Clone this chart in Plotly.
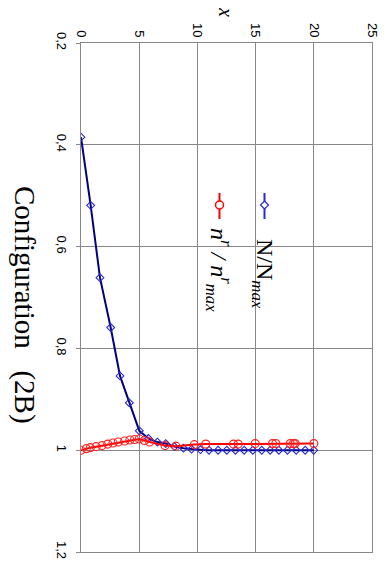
import plotly.graph_objects as go

# ---- data ----
x_N = [0, 0.83, 1.63, 2.55, 3.35, 4.15, 5.01, 5.79, 6.56, 7.28, 8.03, 8.8, 9.5,
       10.26, 11.0, 11.78, 12.53, 13.27, 14.02, 14.76, 15.53, 16.25, 17.0, 17.74,
       18.49, 19.26, 20.0]
y_N = [0.385, 0.519, 0.661, 0.759, 0.854, 0.907, 0.962, 0.977, 0.984, 0.987, 0.993,
       0.996, 0.998, 0.999, 1.0, 1.0, 1.0, 1.0, 1.0, 1.0, 1.0, 1.0, 1.0, 1.0, 1.0,
       1.0, 1.0]

x_n = [0, 0.45, 0.8, 1.3, 1.8, 2.3, 2.75, 3.2, 3.75, 4.2, 4.6, 5.0, 5.45, 5.9, 7.22,
       8.15, 9.74, 10.72, 13.1, 13.5, 14.96, 16.45, 16.74, 17.97, 18.26, 18.4, 20.0]
y_n = [1.0, 0.997, 0.995, 0.993, 0.991, 0.988, 0.986, 0.984, 0.982, 0.980, 0.979,
       0.978, 0.981, 0.984, 0.991, 0.992, 0.989, 0.988, 0.988, 0.988, 0.987, 0.987,
       0.987, 0.987, 0.987, 0.987, 0.987]

x_ticks = [0, 5, 10, 15, 20, 25]
x_tick_labels = ["0", "5", "10", "15", "20", "25"]
y_ticks = [0.2, 0.4, 0.6, 0.8, 1.0, 1.2]
y_tick_labels = ["0,2", "0,4", "0,6", "0,8", "1", "1,2"]

title_text = "Configuration   (2B)"
x_title = "x"
legend_N = "N/N<sub><i>max</i></sub>"
legend_n = "<i>n</i><sup><i>r</i></sup><i> / n</i><sup><i>r</i></sup><sub><i>max</i></sub>"

# ---- geometry (page pixels; page body has an 8px margin) ----
OFF = 8
W, H = 387 - OFF, 570 - OFF
PL, PR, PT, PB = 81, 372, 43, 552          # plot area in page pixels
L, T = PL - OFF, PT - OFF
R, B = W - (PR - OFF), H - (PB - OFF)
pw, ph = PR - PL, PB - PT


def px(xp):
    return (xp - PL) / pw


def py(yp):
    return 1 - (yp - PT) / ph


fig = go.Figure()
fig.add_trace(go.Scatter(
    x=x_N, y=y_N, mode="lines+markers",
    line=dict(color="#000080", width=2),
    marker=dict(symbol="diamond-open", size=6, color="#2a2ad0", line=dict(width=1.1)),
    showlegend=False))
fig.add_trace(go.Scatter(
    x=x_n, y=y_n, mode="lines+markers",
    line=dict(color="#ff0000", width=2),
    marker=dict(symbol="circle-open", size=8, color="#ff2020", line=dict(width=1.1)),
    showlegend=False))

fig.update_layout(
    width=W, height=H,
    margin=dict(l=L, r=R, t=T, b=B, autoexpand=False),
    paper_bgcolor="white", plot_bgcolor="white",
    showlegend=False,
    font=dict(family="Liberation Sans, Arial", size=13, color="black"),
)
fig.update_xaxes(
    range=[0, 25], side="top", tickvals=x_ticks, ticktext=x_tick_labels,
    tickangle=90, showgrid=True, gridcolor="#888888", gridwidth=1,
    showline=True, linecolor="#888888", mirror=True, ticks="", zeroline=False,
    ticklabelstandoff=0, automargin=False,
)
fig.update_yaxes(
    range=[1.2, 0.2], tickvals=y_ticks, ticktext=y_tick_labels,
    tickangle=90, showgrid=True, gridcolor="#888888", gridwidth=1,
    showline=True, linecolor="#888888", mirror=True,
    ticks="outside", ticklen=4, tickcolor="#888888", zeroline=False,
    ticklabelstandoff=3, automargin=False,
)

annotations = [
    dict(text=title_text, x=px(25), y=py(305), xref="paper", yref="paper",
         textangle=90, showarrow=False, xanchor="center", yanchor="middle",
         font=dict(family="Liberation Serif, Times New Roman", size=29, color="black")),
    dict(text="<i>" + x_title + "</i>", x=px(226), y=py(12), xref="paper", yref="paper",
         textangle=90, showarrow=False, xanchor="center", yanchor="middle",
         font=dict(family="Liberation Serif, Times New Roman", size=20, color="black")),
    dict(text=legend_N, x=px(263), y=py(274), xref="paper", yref="paper",
         textangle=90, showarrow=False, xanchor="center", yanchor="middle",
         font=dict(family="Liberation Serif, Times New Roman", size=24, color="black")),
    dict(text=legend_n, x=px(219), y=py(270), xref="paper", yref="paper",
         textangle=90, showarrow=False, xanchor="center", yanchor="middle",
         font=dict(family="Liberation Serif, Times New Roman", size=24, color="black")),
]
fig.update_layout(annotations=annotations)

# legend symbols (vertical line + marker)
shapes = [
    dict(type="line", xref="paper", yref="paper", x0=px(264.5), x1=px(264.5),
         y0=py(193), y1=py(219), line=dict(color="#2a2ad0", width=2)),
    dict(type="path", xref="paper", yref="paper", xsizemode="pixel", ysizemode="pixel",
         xanchor=px(264.5), yanchor=py(205),
         path="M 0 4 L 4 0 L 0 -4 L -4 0 Z", line=dict(color="#2a2ad0", width=1.2),
         fillcolor="white"),
    dict(type="line", xref="paper", yref="paper", x0=px(219.5), x1=px(219.5),
         y0=py(193), y1=py(219), line=dict(color="#ff0000", width=2)),
    dict(type="circle", xref="paper", yref="paper", xsizemode="pixel", ysizemode="pixel",
         xanchor=px(219.5), yanchor=py(205), x0=-4, x1=4, y0=-4, y1=4,
         line=dict(color="#ff0000", width=1.5), fillcolor="white"),
]
fig.update_layout(shapes=shapes)

fig.write_html("out.html")
